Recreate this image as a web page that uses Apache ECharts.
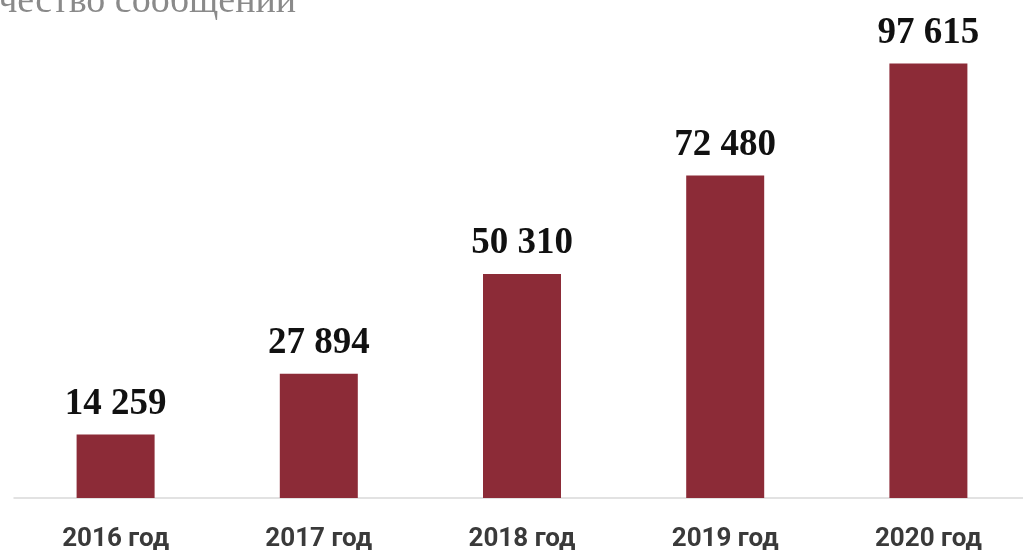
<!DOCTYPE html>
<html>
<head>
<meta charset="utf-8">
<script src="https://cdn.jsdelivr.net/npm/echarts@6/dist/echarts.min.js"></script>
<style>
html,body{margin:0;padding:0;background:#fff;}
#c{width:1023px;height:554px;}
</style>
</head>
<body>
<div id="c"></div>
<script>
const titleText = 'Количество сообщений';
const categories = ['2016 год', '2017 год', '2018 год', '2019 год', '2020 год'];
const values = [14259, 27894, 50310, 72480, 97615];

function fmt(v) {
  return String(v).replace(/\B(?=(\d{3})+(?!\d))/g, ' ');
}

const chart = echarts.init(document.getElementById('c'), null, {renderer: 'canvas'});
chart.setOption({
  backgroundColor: '#ffffff',
  animation: false,
  graphic: [{
    type: 'text',
    left: -83,
    top: -17,
    style: {
      text: titleText,
      font: '38px "Liberation Serif"',
      fill: '#8a8a8a'
    }
  }],
  grid: {left: 14, top: 53, bottom: 56, width: 1016, outerBoundsMode: 'none', containLabel: false},
  xAxis: {
    type: 'category',
    data: categories,
    axisLine: {show: true, lineStyle: {color: '#d9d9d9', width: 1.5}},
    axisTick: {show: false},
    axisLabel: {
      margin: 28,
      color: '#3a3a3a',
      fontFamily: 'Roboto',
      fontWeight: 'bold',
      fontSize: 26
    }
  },
  yAxis: {
    type: 'value',
    min: 0,
    max: 100000,
    show: false,
    splitLine: {show: false}
  },
  series: [{
    type: 'bar',
    data: values,
    barWidth: 78,
    itemStyle: {color: '#8c2b37'},
    label: {
      show: true,
      position: 'top',
      distance: 12,
      formatter: p => fmt(p.value),
      fontFamily: '"Liberation Serif"',
      fontWeight: 'bold',
      fontSize: 37,
      color: '#111111'
    }
  }]
});
</script>
</body>
</html>
